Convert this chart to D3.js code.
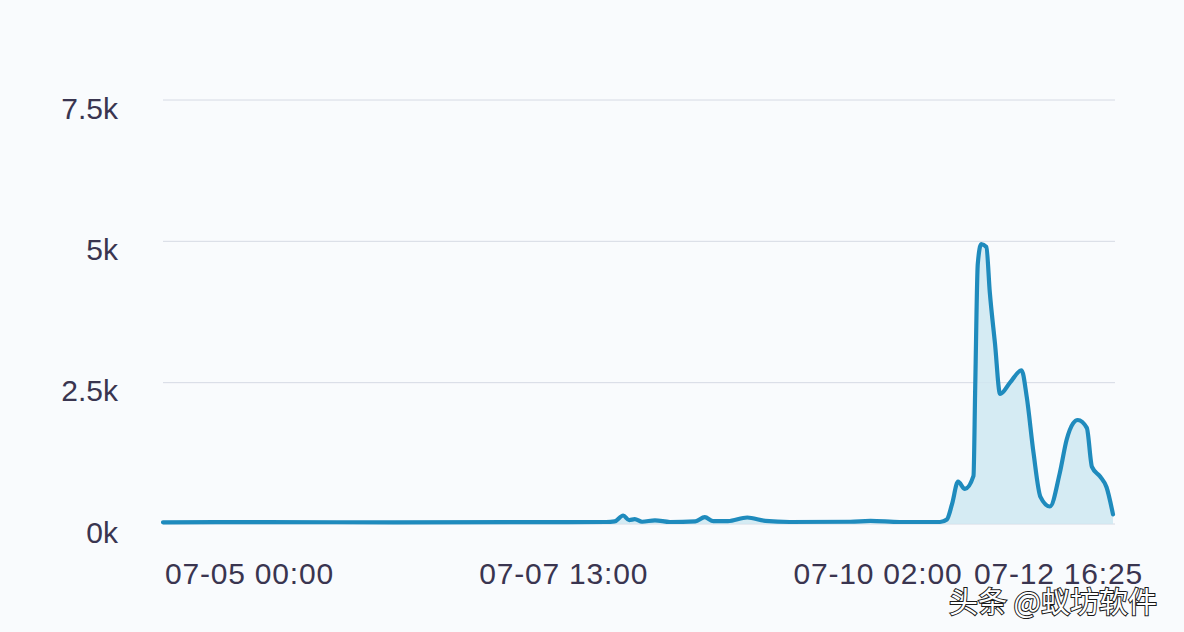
<!DOCTYPE html>
<html>
<head>
<meta charset="utf-8">
<script src="https://cdn.jsdelivr.net/npm/d3@7/dist/d3.min.js"></script>
<style>
  html, body { margin: 0; padding: 0; background: #f9fbfd; }
  svg { display: block; }
</style>
</head>
<body>
<svg id="chart" width="1184" height="632"></svg>
<script>
// ---- data ----
const times = [
  "07-05 00:00", "07-05 20:00", "07-06 21:00", "07-07 22:00", "07-08 14:00",
  "07-08 15:40", "07-08 17:20", "07-08 18:30", "07-08 19:35", "07-08 21:00",
  "07-08 23:30", "07-09 02:25", "07-09 07:20", "07-09 09:10", "07-09 10:50",
  "07-09 13:40", "07-09 17:25", "07-09 20:55", "07-10 01:40", "07-10 13:25",
  "07-10 17:20", "07-10 23:00", "07-11 06:50", "07-11 08:10", "07-11 09:10",
  "07-11 10:20", "07-11 11:40", "07-11 13:20", "07-11 13:40", "07-11 14:10",
  "07-11 14:50", "07-11 15:50", "07-11 16:30", "07-11 17:30", "07-11 18:30",
  "07-11 20:25", "07-11 22:40", "07-11 23:40", "07-12 01:00", "07-12 02:20",
  "07-12 04:10", "07-12 06:05", "07-12 07:25", "07-12 08:40", "07-12 09:35",
  "07-12 11:20", "07-12 12:20", "07-12 13:55", "07-12 15:10", "07-12 16:25"
];
const values = [
  30, 32, 30, 32, 35,
  45, 150, 70, 85, 40,
  65, 35, 45, 120, 50,
  50, 115, 55, 35, 40,
  55, 35, 35, 80, 350,
  750, 620, 850, 2400, 4600,
  4950, 4900, 4100, 3200, 2300,
  2500, 2720, 2250, 1250, 480,
  310, 900, 1490, 1780, 1840,
  1700, 1010, 840, 650, 170
];
const yTicks = [0, 2500, 5000, 7500];
const xTickLabels = ["07-05 00:00", "07-07 13:00", "07-10 02:00", "07-12 16:25"];
const watermark = "头条 @蚁坊软件";

// ---- chart ----
const parse = d3.timeParse("%m-%d %H:%M");
const data = times.map((t, i) => ({ t: parse(t), v: values[i] }));

const svg = d3.select("#chart");
const plotLeft = 163, plotRight = 1113, plotTop = 100, plotBottom = 524;

const x = d3.scaleTime()
  .domain([parse(times[0]), parse(times[times.length - 1])])
  .range([plotLeft, plotRight]);
const y = d3.scaleLinear().domain([0, 7500]).range([plotBottom, plotTop]);

const textColor = "#3a3550";
const font = "'Liberation Sans', Arial, sans-serif";

// gridlines
svg.append("g").selectAll("line")
  .data(yTicks).join("line")
  .attr("x1", plotLeft).attr("x2", 1115)
  .attr("y1", d => y(d)).attr("y2", d => y(d))
  .attr("stroke", "#d6dae4").attr("stroke-width", 1);

// y axis labels
const yAxis = d3.axisLeft(y).tickValues(yTicks)
  .tickFormat(d => (d / 1000) + "k").tickSize(0).tickPadding(0);
const gy = svg.append("g").attr("transform", "translate(118,0)").call(yAxis);
gy.select(".domain").remove();
gy.selectAll("text")
  .attr("font-family", font).attr("font-size", 30)
  .attr("fill", textColor).attr("dy", "0.6em");

// area + line
const area = d3.area().x(d => x(d.t)).y0(y(0)).y1(d => y(d.v)).curve(d3.curveMonotoneX);
const line = d3.line().x(d => x(d.t)).y(d => y(d.v)).curve(d3.curveMonotoneX);

svg.append("path").datum(data).attr("d", area)
  .attr("fill", "#cfe7f1").attr("fill-opacity", 0.85);
svg.append("path").datum(data).attr("d", line)
  .attr("fill", "none").attr("stroke", "#1f8bbd").attr("stroke-width", 4.2)
  .attr("stroke-linejoin", "round").attr("stroke-linecap", "round");

// x axis labels
const xTickDates = xTickLabels.map(parse);
const gx = svg.append("g");
gx.selectAll("text").data(xTickDates).join("text")
  .attr("x", (d, i) => i === xTickDates.length - 1 ? x(d) - 139 : x(d) + 2)
  .attr("y", 584)
  .attr("font-family", font).attr("font-size", 30)
  .attr("letter-spacing", 0.8)
  .attr("fill", textColor)
  .text((d, i) => xTickLabels[i]);

// watermark
svg.append("text")
  .attr("x", 949).attr("y", 613)
  .attr("font-family", "'Noto Sans CJK SC', sans-serif").attr("font-size", 29)
  .attr("fill", "#ffffff").attr("stroke", "#1a1a1a").attr("stroke-width", 2)
  .attr("paint-order", "stroke")
  .text(watermark);
</script>
</body>
</html>
